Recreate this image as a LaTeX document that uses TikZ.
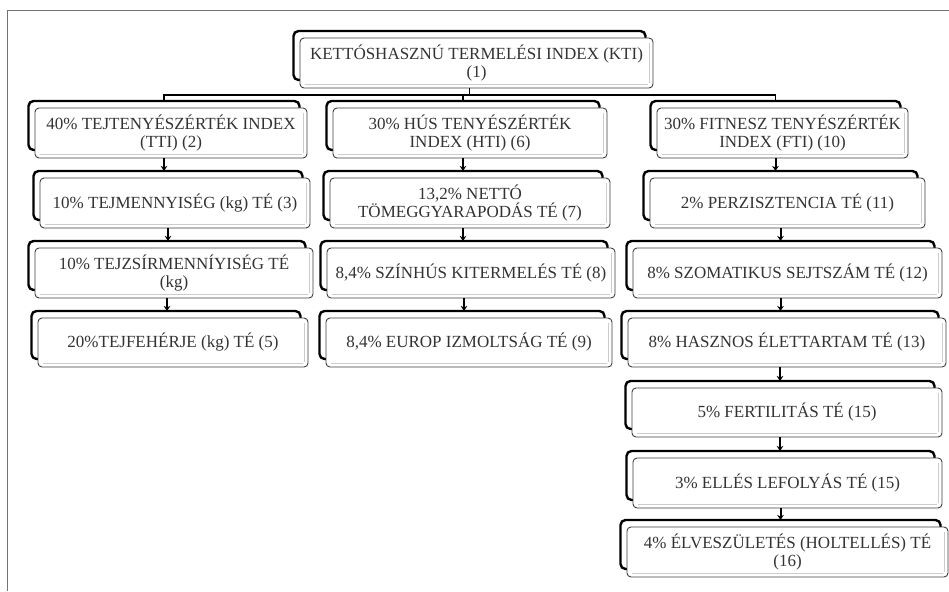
\documentclass[tikz,border=0pt]{standalone}
\usepackage{fontspec}
\setmainfont{Liberation Serif}
\usetikzlibrary{arrows.meta}
\tikzset{
  backbox/.style={draw=black, line width=2.4pt, rounded corners=5pt, inner sep=0pt, outer sep=0pt},
  frontbox/.style={draw=black!75, line width=0.9pt, fill=white, rounded corners=4pt, align=center,
    inner sep=0pt, outer sep=0pt, text=black!80, font=\fontsize{17}{18.5}\selectfont},
  bevel/.style={draw=black!20, line width=1.4pt},
  conn/.style={draw=black, line width=1.6pt},
  arr/.style={draw=black, line width=2pt, -{Stealth[length=5pt,width=6.5pt]}},
  frameline/.style={draw=black!55, line width=1.5pt}
}
\newcommand\tbox[6]{%
  \pgfmathsetmacro\tbw{#4-#2}%
  \pgfmathsetmacro\tbh{#5-#3}%
  \pgfmathsetmacro\tbbw{#4-#2-1}%
  \pgfmathsetmacro\tbbh{#5-#3-1}%
  \pgfmathsetmacro\tbx{(#2+#4)/2}%
  \pgfmathsetmacro\tby{(#3+#5)/2}%
  \node[backbox, minimum width=\tbbw pt, minimum height=\tbbh pt] (#1b) at (\tbx-7,\tby-7.5) {};
  \node[frontbox, minimum width=\tbw pt, minimum height=\tbh pt] (#1) at (\tbx,\tby) {#6};
  \draw[bevel] ([shift={(5,-3.5)}]#1.south west) -- ([shift={(-5,-3.5)}]#1.south east);
  \draw[bevel] ([shift={(-3.5,5)}]#1.north east) -- ([shift={(-3.5,-5)}]#1.south east);
}
\begin{document}
\begin{tikzpicture}[x=1pt,y=-1pt]
\useasboundingbox[fill=white] (0,0) rectangle (949,591);
\draw[frameline] (7.5,591) -- (7.5,10.5) -- (949,10.5);

\tbox{n1}{300}{38}{653}{88}{KETTÓSHASZNÚ TERMELÉSI INDEX (KTI)\\(1)}
\draw[conn] (n1b.south |- n1.south) -- ++(0,7) coordinate (hub);

\tbox{n2}{35}{108}{307}{158}{40\% TEJTENYÉSZÉRTÉK INDEX\\(TTI) (2)}
\tbox{n3}{40}{178}{310}{228}{10\% TEJMENNYISÉG (kg) TÉ (3)}
\tbox{n4}{35}{248}{313}{298}{10\% TEJZSÍRMENNÍYISÉG TÉ\\(kg)}
\tbox{n5}{38}{318}{308}{367}{20\%TEJFEHÉRJE (kg) TÉ (5)}

\tbox{n6}{333}{108}{607}{158}{30\% HÚS TENYÉSZÉRTÉK\\INDEX (HTI) (6)}
\tbox{n7}{330}{178}{610}{228}{13,2\% NETTÓ\\TÖMEGGYARAPODÁS TÉ (7)}
\tbox{n8}{327}{248}{615}{298}{8,4\% SZÍNHÚS KITERMELÉS TÉ (8)}
\tbox{n9}{326}{318}{612}{367}{8,4\% EUROP IZMOLTSÁG TÉ (9)}

\tbox{n10}{657}{108}{908}{158}{30\% FITNESZ TENYÉSZÉRTÉK\\INDEX (FTI) (10)}
\tbox{n11}{650}{178}{925}{228}{2\% PERZISZTENCIA TÉ (11)}
\tbox{n12}{633}{248}{942}{298}{8\% SZOMATIKUS SEJTSZÁM TÉ (12)}
\tbox{n13}{628}{318}{946}{367}{8\% HASZNOS ÉLETTARTAM TÉ (13)}
\tbox{n14}{632}{388}{942}{437}{5\% FERTILITÁS TÉ (15)}
\tbox{n15}{633}{458}{942}{508}{3\% ELLÉS LEFOLYÁS TÉ (15)}
\tbox{n16}{627}{527}{948}{577}{4\% ÉLVESZÜLETÉS (HOLTELLÉS) TÉ\\(16)}

\draw[conn] (hub) -| (n2b.north);
\draw[conn] (hub) -| (n6b.north);
\draw[conn] (hub) -| (n10b.north);

\foreach \a/\b in {n2/n3,n3/n4,n4/n5,n6/n7,n7/n8,n8/n9,n10/n11,n11/n12,n12/n13,n13/n14,n14/n15,n15/n16}{
  \draw[arr] (\a b.south |- \a.south) -- (\a b.south |- \b b.north);
}
\end{tikzpicture}
\end{document}
